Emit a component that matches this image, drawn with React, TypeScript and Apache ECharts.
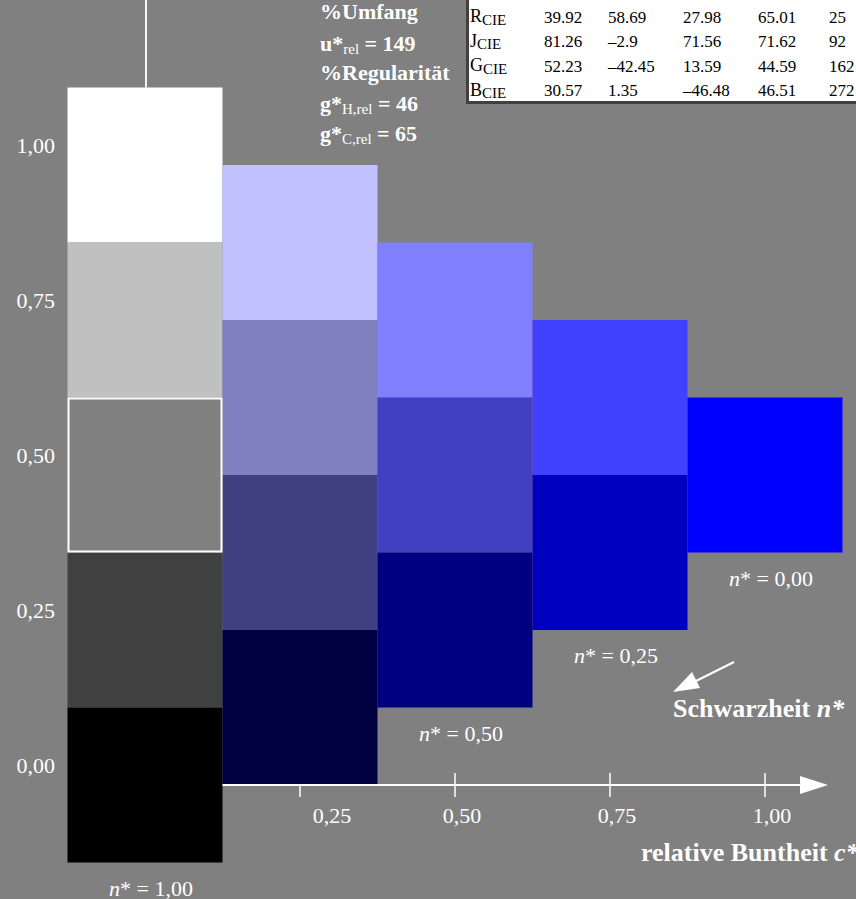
import React, { useEffect, useRef } from 'react';
import * as echarts from 'echarts';

// ---- data ----
const cellChroma = [0, 0, 0, 0, 0, 0.25, 0.25, 0.25, 0.25, 0.5, 0.5, 0.5, 0.75, 0.75, 1.0];
const cellLightness = [1, 0.75, 0.5, 0.25, 0, 0.875, 0.625, 0.375, 0.125, 0.75, 0.5, 0.25, 0.625, 0.375, 0.5];
const cellColors = [
  '#ffffff', '#c0c0c0', '#808080', '#404040', '#000000',
  '#c0c0ff', '#8080c0', '#404080', '#000040',
  '#8080ff', '#4040c0', '#000080',
  '#4040ff', '#0000c0',
  '#0000ff',
];
const cellOutlined = [false, false, true, false, false, false, false, false, false, false, false, false, false, false, false];

const xTicks = [0.25, 0.5, 0.75, 1.0];

const nLabelChroma = [0, 0.5, 0.75, 1.0];
const nLabelLowestCell = [0, 0.25, 0.375, 0.5];
const nLabelTexts = ['1,00', '0,50', '0,25', '0,00'];

const tableRowLetters = ['R', 'J', 'G', 'B'];
const tableL = ['39.92', '81.26', '52.23', '30.57'];
const tableA = ['58.69', '\u20132.9', '\u201342.45', '1.35'];
const tableB = ['27.98', '71.56', '13.59', '\u201346.48'];
const tableC = ['65.01', '71.62', '44.59', '46.51'];
const tableH = ['25', '92', '162', '272'];

const FONT = "'Liberation Serif', 'Times New Roman', serif";
const fmt = (v: number) => v.toFixed(2).replace('.', ',');

export default function App() {
  const ref = useRef<HTMLDivElement>(null);
  useEffect(() => {
    if (!ref.current) return;
    const chart = echarts.init(ref.current, null, { renderer: 'svg' });

    const tableCols = [tableL, tableA, tableB, tableC, tableH];
    const colX = [544, 608, 683, 758, 829];
    const tableElems: any[] = [
      { type: 'rect', shape: { x: 466, y: -5, width: 400, height: 109 }, style: { fill: '#404040' } },
      { type: 'rect', shape: { x: 469, y: -5, width: 400, height: 106 }, style: { fill: '#ffffff' } },
    ];
    tableRowLetters.forEach((r, i) => {
      const y = 17 + 24.6 * i;
      tableElems.push({
        type: 'text', x: 470, y,
        style: {
          text: `{a|${r}}{s|CIE}`, fill: '#000', verticalAlign: 'middle', align: 'left',
          rich: {
            a: { fontFamily: FONT, fontSize: 18, lineHeight: 20, fill: '#000', verticalAlign: 'top' },
            s: { fontFamily: FONT, fontSize: 15, lineHeight: 17, fill: '#000', verticalAlign: 'bottom' },
          },
        },
      });
      tableCols.forEach((col, j) => {
        tableElems.push({
          type: 'text', x: colX[j], y,
          style: { text: col[i], fill: '#000', fontFamily: FONT, fontSize: 17, verticalAlign: 'middle', align: 'left' },
        });
      });
    });

    const boldLine = (y: number, main: string, sub?: string, rest?: string) => ({
      type: 'text', x: 320, y,
      style: sub
        ? {
            text: `{b|${main}}{s|${sub}}{b|${rest}}`,
            verticalAlign: 'middle', align: 'left',
            rich: {
              b: { fontFamily: FONT, fontSize: 22, fontWeight: 'bold', fill: '#fff', lineHeight: 26 },
              s: { fontFamily: FONT, fontSize: 15, fill: '#fff', lineHeight: 17, verticalAlign: 'bottom' },
            },
          }
        : { text: main, fontFamily: FONT, fontSize: 22, fontWeight: 'bold', fill: '#fff', verticalAlign: 'middle', align: 'left' },
    });

    const option: any = {
      animation: false,
      backgroundColor: '#808080',
      textStyle: { fontFamily: FONT },
      grid: { left: 145, top: 165, width: 620, height: 620 },
      xAxis: {
        type: 'value', min: 0, max: 1, interval: 0.25,
        axisLine: { show: false }, axisTick: { show: false }, splitLine: { show: false },
        axisLabel: {
          margin: 19, color: '#fff', fontSize: 22, fontFamily: FONT,
          formatter: (v: number) => (v === 0 ? '' : v === 0.25 ? `{b|${fmt(v)}}` : `{a|${fmt(v)}}`),
          rich: {
            a: { fontSize: 22, fontFamily: FONT, color: '#fff', padding: [0, 0, 0, 14] },
            b: { fontSize: 22, fontFamily: FONT, color: '#fff', padding: [0, 0, 0, 64] },
          },
        },
      },
      yAxis: {
        type: 'value', min: 0, max: 1, interval: 0.25,
        axisLine: { show: false }, axisTick: { show: false }, splitLine: { show: false },
        axisLabel: {
          margin: 90, color: '#fff', fontSize: 22, fontFamily: FONT,
          verticalAlign: 'bottom', lineHeight: 40,
          formatter: (v: number) => fmt(v),
        },
      },
      series: [
        {
          type: 'custom', name: 'cells', clip: false, coordinateSystem: 'cartesian2d',
          data: cellChroma.map((c, i) => [c, cellLightness[i], i]),
          renderItem: (_p: any, api: any) => {
            const c = api.value(0), l = api.value(1), i = api.value(2);
            const tl = api.coord([c - 0.125, l + 0.125]);
            const br = api.coord([c + 0.125, l - 0.125]);
            const o = cellOutlined[i];
            const inset = o ? 1 : 0;
            return {
              type: 'rect',
              z2: o ? 10 : 1,
              shape: { x: tl[0] + inset, y: tl[1] + inset, width: br[0] - tl[0] - 2 * inset, height: br[1] - tl[1] - 2 * inset },
              style: { fill: cellColors[i], stroke: o ? '#ffffff' : null, lineWidth: o ? 2 : 0 },
            };
          },
        },
        {
          type: 'custom', name: 'axis', clip: false, coordinateSystem: 'cartesian2d', z: 3,
          data: [[0, 0]],
          renderItem: (_p: any, api: any) => {
            const o = api.coord([0.125, 0]);
            const end = api.coord([1, 0]);
            const tipX = end[0] + 63;
            const y = o[1];
            const children: any[] = [
              { type: 'line', shape: { x1: o[0], y1: y, x2: tipX - 24, y2: y }, style: { stroke: '#fff', lineWidth: 2 } },
              { type: 'polygon', shape: { points: [[tipX - 28, y - 9], [tipX, y], [tipX - 28, y + 9]] }, style: { fill: '#fff' } },
            ];
            xTicks.forEach((v) => {
              const p = api.coord([v, 0]);
              children.push({
                type: 'line',
                shape: { x1: p[0], y1: p[1] - (v === 0.25 ? 0 : 12), x2: p[0], y2: p[1] + 12 },
                style: { stroke: '#fff', lineWidth: 1.5 },
              });
            });
            const top = api.coord([0, 1.125]);
            children.push({ type: 'line', shape: { x1: top[0] + 1, y1: 0, x2: top[0] + 1, y2: top[1] }, style: { stroke: '#f4f4f4', lineWidth: 2 } });
            return { type: 'group', children };
          },
        },
        {
          type: 'custom', name: 'nLabels', clip: false, coordinateSystem: 'cartesian2d', z: 4,
          data: nLabelChroma.map((c, i) => [c, nLabelLowestCell[i], i]),
          renderItem: (_p: any, api: any) => {
            const c = api.value(0), l = api.value(1), i = api.value(2);
            const p = api.coord([c, l - 0.125]);
            return {
              type: 'text', x: p[0] + 6, y: p[1] + 25.5,
              style: {
                text: `{i|n}{r|* = ${nLabelTexts[i]}}`,
                align: 'center', verticalAlign: 'middle',
                rich: {
                  i: { fontFamily: FONT, fontSize: 22, fontStyle: 'italic', fill: '#fff' },
                  r: { fontFamily: FONT, fontSize: 22, fill: '#fff' },
                },
              },
            };
          },
        },
      ],
      graphic: [
        ...tableElems,
        boldLine(11, '%Umfang'),
        boldLine(43, 'u*', 'rel', ' = 149'),
        boldLine(72, '%Regularität'),
        boldLine(103, 'g*', 'H,rel', ' = 46'),
        boldLine(133, 'g*', 'C,rel', ' = 65'),
        { type: 'line', shape: { x1: 734, y1: 662, x2: 692, y2: 683 }, style: { stroke: '#fff', lineWidth: 2 } },
        { type: 'polygon', shape: { points: [[673, 692], [692, 672], [700, 688]] }, style: { fill: '#fff' } },
        {
          type: 'text', x: 673, y: 708,
          style: {
            text: '{b|Schwarzheit }{i|n*}', align: 'left', verticalAlign: 'middle',
            rich: {
              b: { fontFamily: FONT, fontSize: 26, fontWeight: 'bold', fill: '#fff' },
              i: { fontFamily: FONT, fontSize: 26, fontWeight: 'bold', fontStyle: 'italic', fill: '#fff' },
            },
          },
        },
        {
          type: 'text', x: 641, y: 852,
          style: {
            text: '{b|relative Buntheit }{i|c*}', align: 'left', verticalAlign: 'middle',
            rich: {
              b: { fontFamily: FONT, fontSize: 26, fontWeight: 'bold', fill: '#fff' },
              i: { fontFamily: FONT, fontSize: 26, fontWeight: 'bold', fontStyle: 'italic', fill: '#fff' },
            },
          },
        },
      ],
    };
    chart.setOption(option);
    return () => chart.dispose();
  }, []);
  return <div ref={ref} style={{ position: 'fixed', left: 0, top: 0, width: 856, height: 899 }} />;
}
